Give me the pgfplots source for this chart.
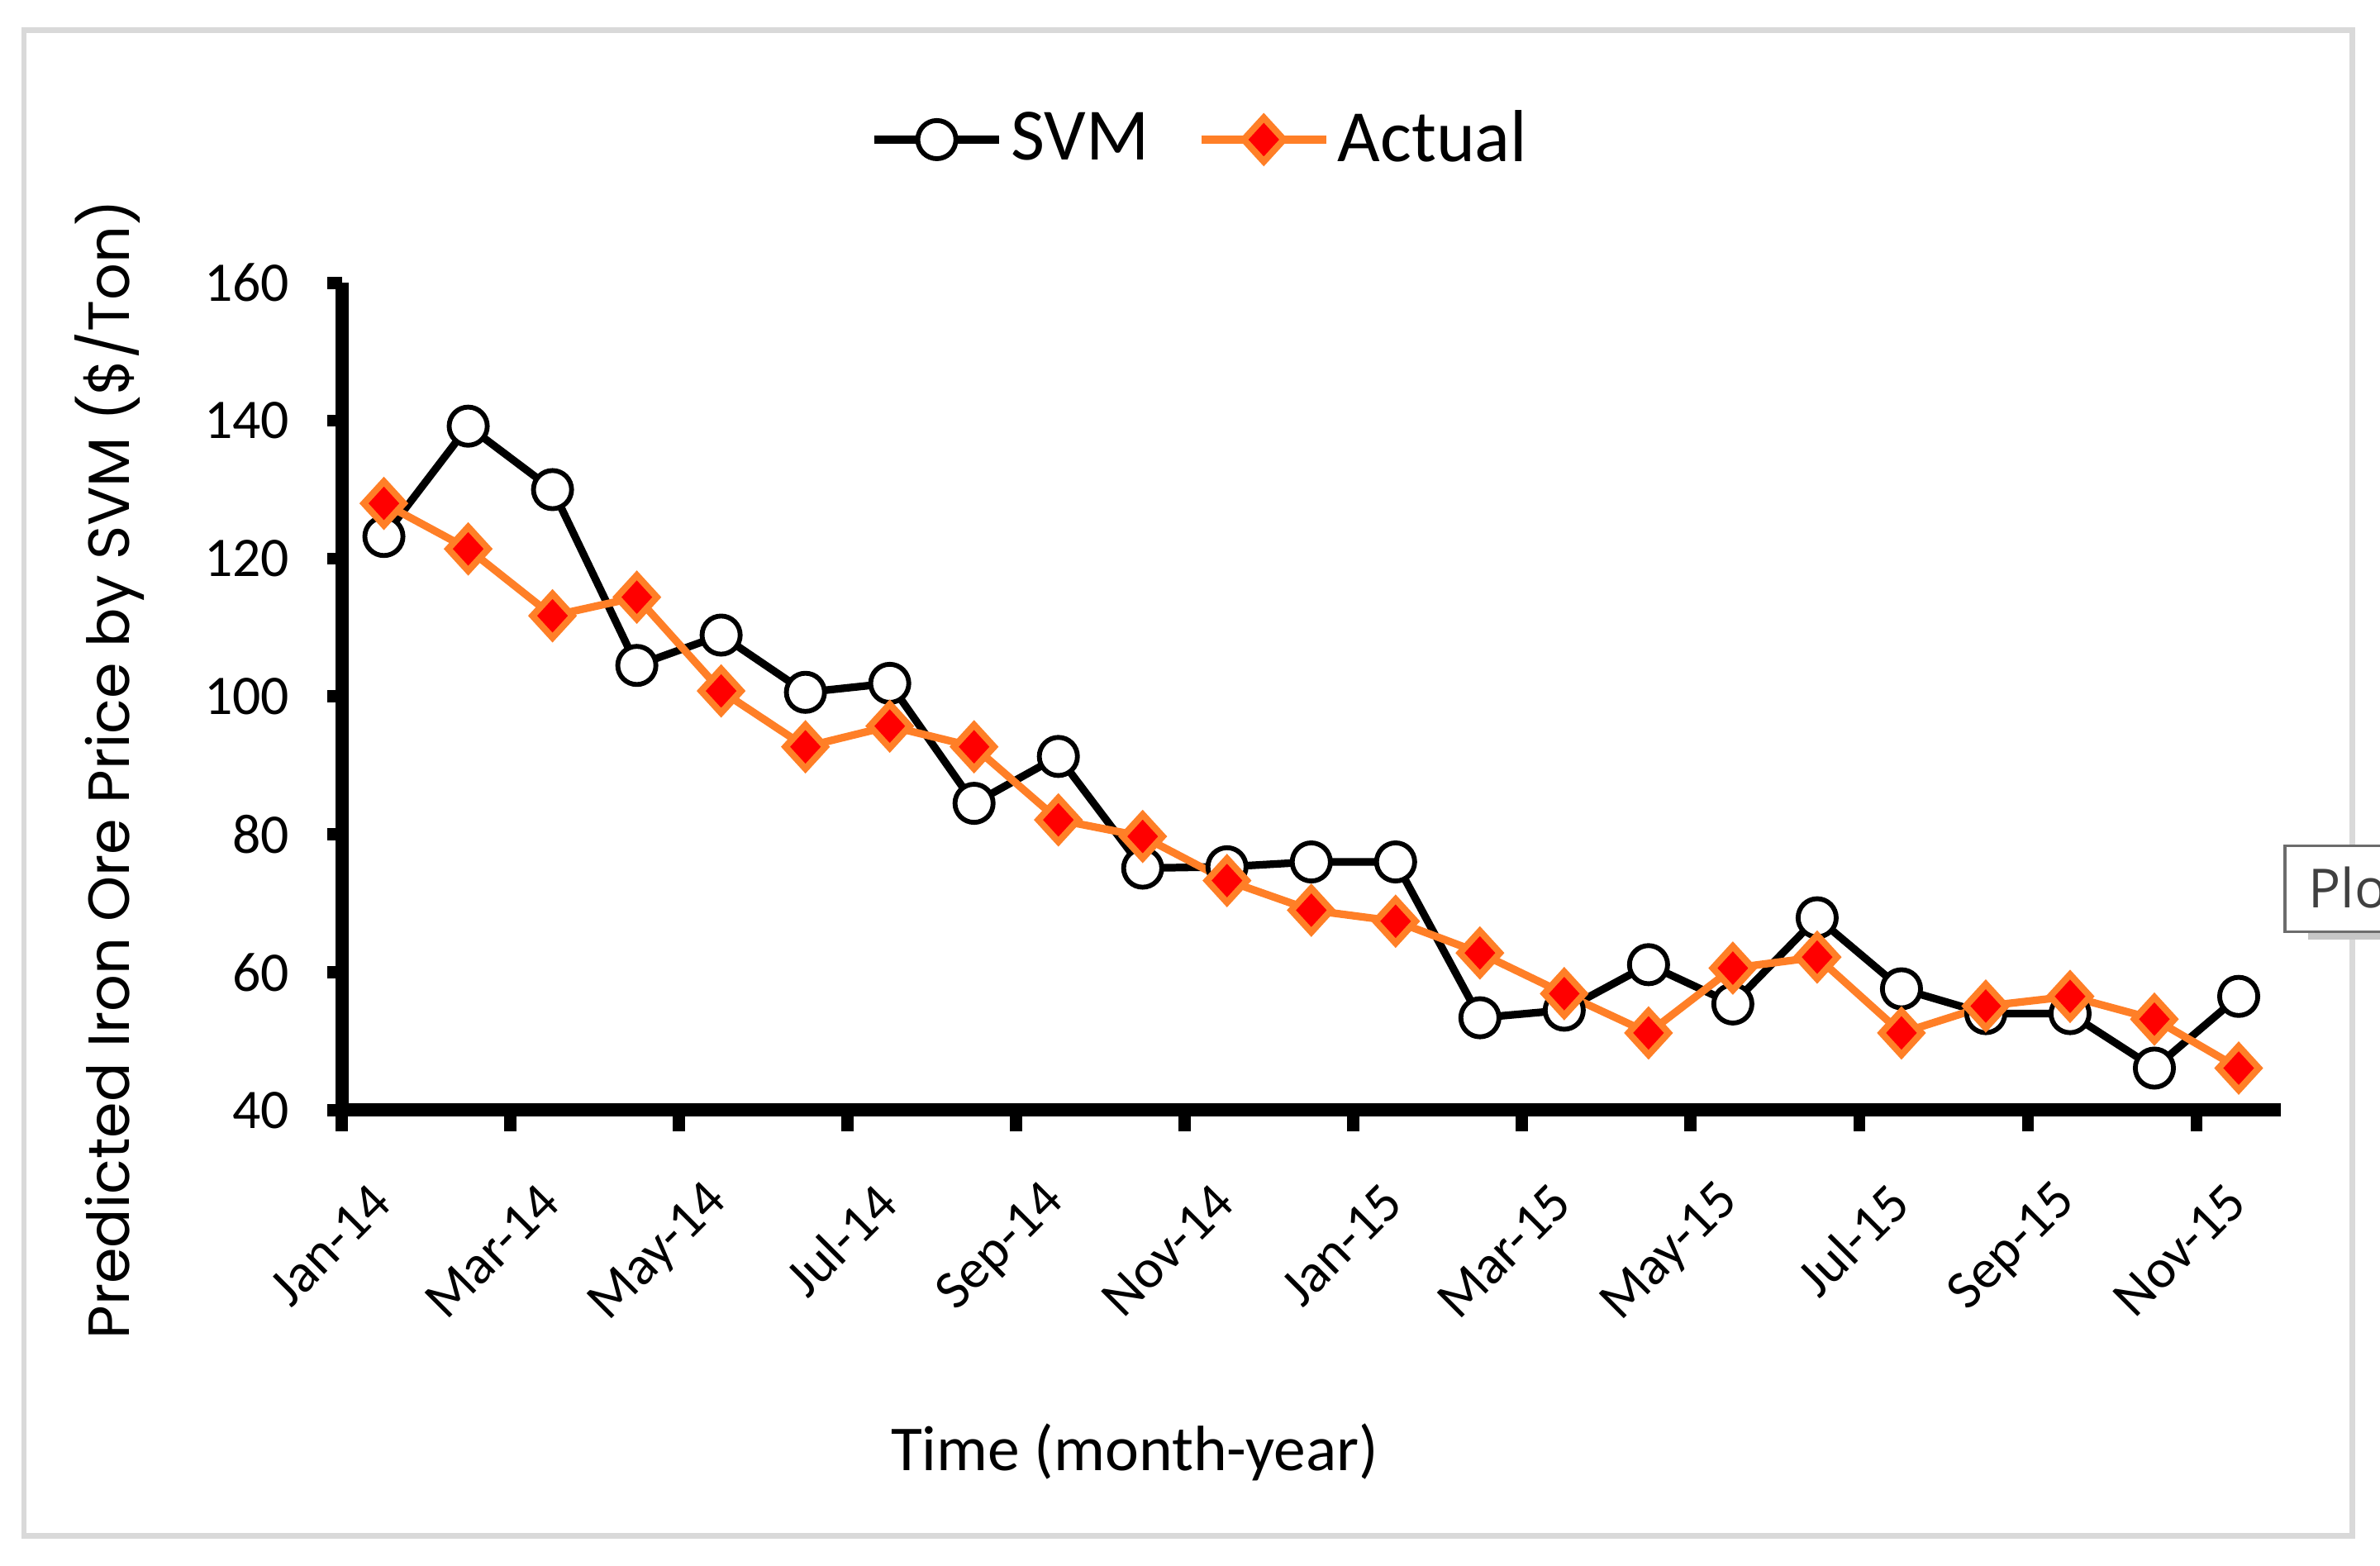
\documentclass[border=0pt]{standalone}
\usepackage{pgfplots}
\pgfplotsset{compat=1.18}
\usepackage{fontspec}
\setmainfont{Carlito}
\newfontfamily\ylabfont{Poppins}
\newfontfamily\tipfont{Open Sans}
\definecolor{actorange}{RGB}{255,127,39}
\definecolor{actred}{RGB}{255,0,0}
\definecolor{framegray}{RGB}{217,217,217}
\definecolor{tipgray}{RGB}{64,64,64}
\begin{document}
\begin{tikzpicture}
\useasboundingbox (0pt,0pt) rectangle (468pt,307.8pt);
\clip (0pt,0pt) rectangle (468pt,307.8pt);
\draw[framegray, line width=1.1pt] (4.71pt,5.85pt) rectangle (462.6pt,301.9pt);
\fill[gray!45] (453.9pt,123.0pt) rectangle (470pt,124.6pt);
\draw[gray!85!black, fill=white, line width=0.5pt] (449.3pt,124.6pt) rectangle (475pt,141.5pt);
\node[anchor=base west, inner sep=0pt, text=tipgray, font=\tipfont\fontsize{10.6}{12}\selectfont] at (453.7pt,129.35pt) {Plot Area};
\begin{axis}[
  at={(67.2pt,89.5pt)}, anchor=south west,
  scale only axis, width=381.3pt, height=162.7pt,
  clip=false,
  axis x line=bottom, axis y line=left,
  axis line style={-, line width=2.6pt, black},
  xmin=-0.5, xmax=22.5, ymin=40, ymax=160,
  ytick={40,60,...,160},
  xtick={0,2,...,22},
  xticklabels={Jan-14,Mar-14,May-14,Jul-14,Sep-14,Nov-14,Jan-15,Mar-15,May-15,Jul-15,Sep-15,Nov-15},
  minor xtick={-0.5,1.5,...,21.5},
  tick align=outside,
  major tick length=2.9pt, minor tick length=4.2pt,
  major x tick style={draw=none},
  tick style={line width=2.4pt, black},
  minor tick style={line width=2.4pt, black},
  /pgf/number format/assume math mode=true,
  yticklabel style={font=\fontsize{11}{13}\selectfont, anchor=east, xshift=-3.9pt},
  xticklabel style={font=\fontsize{10.8}{13}\selectfont, xshift=2pt, yshift=-11pt, rotate=45, anchor=east},
  every axis y label/.style={at={(axis description cs:-0.1196,0.412)}, rotate=90, anchor=center, font=\ylabfont\fontsize{11.4}{13}\selectfont},
  every axis x label/.style={at={(axis description cs:0.409,-0.4138)}, anchor=center, font=\fontsize{12.6}{15}\selectfont},
  ylabel={Predicted Iron Ore Price by SVM (\$/Ton)},
  xlabel={Time (month-year)},
  legend style={at={(0.444,1.173)}, anchor=center, draw=none, fill=none, legend columns=2,
    font=\fontsize{14.5}{17}\selectfont, /tikz/every even column/.append style={column sep=8pt},
    nodes={inner sep=1.5pt}},
  legend image code/.code={\draw[mark repeat=2,mark phase=2,#1] plot coordinates {(0pt,0pt)(12.3pt,0pt)(24.6pt,0pt)};},
]
\addplot[black, line width=1.5pt, mark=*, mark size=3.75pt, mark options={fill=white, draw=black, line width=0.95pt}] coordinates {
(0,123.2)(1,139.2)(2,130)(3,104.5)(4,108.9)(5,100.6)(6,101.9)(7,84.5)(8,91.3)(9,75.1)(10,75.3)(11,76)(12,76)(13,53.4)(14,54.5)(15,61.1)(16,55.4)(17,67.9)(18,57.6)(19,54)(20,54)(21,46.1)(22,56.5)};
\addlegendentry{SVM}
\addplot[actorange, line width=1.5pt, mark=diamond*, mark size=4.3pt, mark options={xscale=1.22, fill=actred, draw=actorange, line width=1.3pt}] coordinates {
(0,128)(1,121.4)(2,111.7)(3,114.4)(4,100.8)(5,92.7)(6,95.7)(7,92.7)(8,82.1)(9,79.7)(10,73.3)(11,69)(12,67.4)(13,62.8)(14,56.9)(15,51.2)(16,60.6)(17,62.2)(18,51.2)(19,55.1)(20,56.5)(21,53.2)(22,46.1)};
\addlegendentry{Actual}
\end{axis}
\end{tikzpicture}
\end{document}
